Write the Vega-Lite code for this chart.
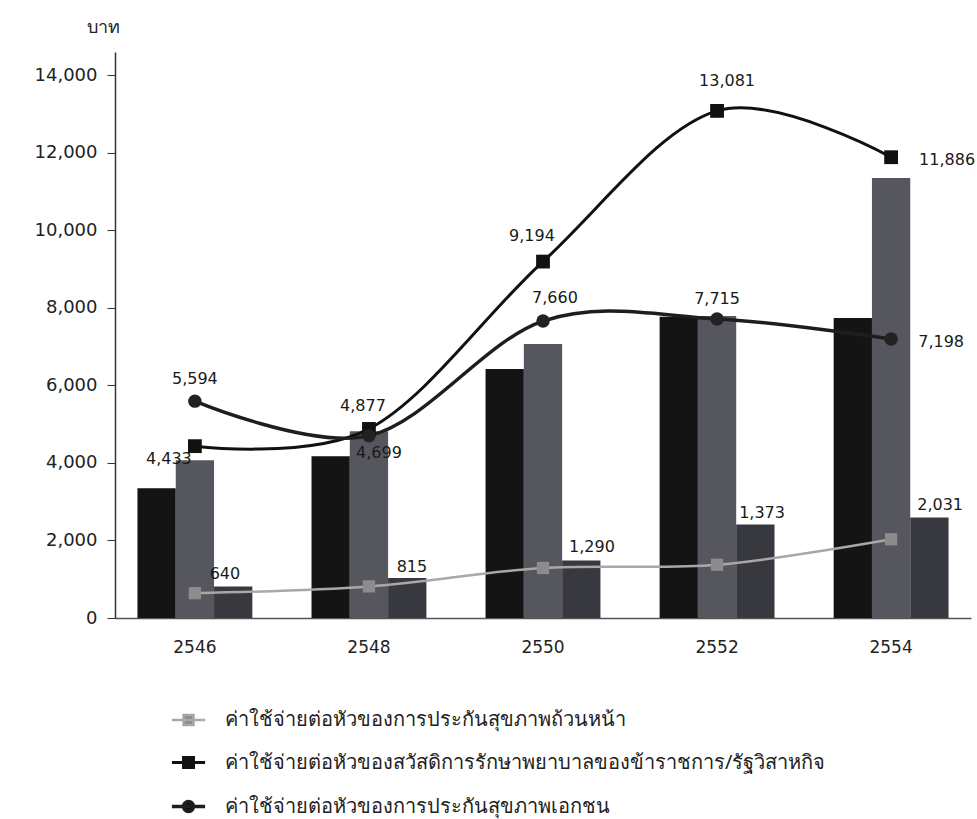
{
  "$schema": "https://vega.github.io/schema/vega-lite/v6.json",
  "autosize": {"type": "none"},
  "width": 856,
  "height": 566,
  "padding": {"left": 115, "top": 52, "right": 6, "bottom": 201},
  "background": "white",
  "config": {"view": {"stroke": null}},
  "datasets": {
    "bars": [
      {"year": "2546", "group": "b1", "value": 3350},
      {"year": "2546", "group": "b2", "value": 4070},
      {"year": "2546", "group": "b3", "value": 810},
      {"year": "2548", "group": "b1", "value": 4170},
      {"year": "2548", "group": "b2", "value": 4820},
      {"year": "2548", "group": "b3", "value": 1030},
      {"year": "2550", "group": "b1", "value": 6420},
      {"year": "2550", "group": "b2", "value": 7070},
      {"year": "2550", "group": "b3", "value": 1480},
      {"year": "2552", "group": "b1", "value": 7770},
      {"year": "2552", "group": "b2", "value": 7790},
      {"year": "2552", "group": "b3", "value": 2410},
      {"year": "2554", "group": "b1", "value": 7740},
      {"year": "2554", "group": "b2", "value": 11350},
      {"year": "2554", "group": "b3", "value": 2590}
    ],
    "lines": [
      {"year": "2546", "code": "uc", "scheme": "ค่าใช้จ่ายต่อหัวของการประกันสุขภาพถ้วนหน้า", "value": 640},
      {"year": "2548", "code": "uc", "scheme": "ค่าใช้จ่ายต่อหัวของการประกันสุขภาพถ้วนหน้า", "value": 815},
      {"year": "2550", "code": "uc", "scheme": "ค่าใช้จ่ายต่อหัวของการประกันสุขภาพถ้วนหน้า", "value": 1290},
      {"year": "2552", "code": "uc", "scheme": "ค่าใช้จ่ายต่อหัวของการประกันสุขภาพถ้วนหน้า", "value": 1373},
      {"year": "2554", "code": "uc", "scheme": "ค่าใช้จ่ายต่อหัวของการประกันสุขภาพถ้วนหน้า", "value": 2031},
      {"year": "2546", "code": "cs", "scheme": "ค่าใช้จ่ายต่อหัวของสวัสดิการรักษาพยาบาลของข้าราชการ/รัฐวิสาหกิจ", "value": 4433},
      {"year": "2548", "code": "cs", "scheme": "ค่าใช้จ่ายต่อหัวของสวัสดิการรักษาพยาบาลของข้าราชการ/รัฐวิสาหกิจ", "value": 4877},
      {"year": "2550", "code": "cs", "scheme": "ค่าใช้จ่ายต่อหัวของสวัสดิการรักษาพยาบาลของข้าราชการ/รัฐวิสาหกิจ", "value": 9194},
      {"year": "2552", "code": "cs", "scheme": "ค่าใช้จ่ายต่อหัวของสวัสดิการรักษาพยาบาลของข้าราชการ/รัฐวิสาหกิจ", "value": 13081},
      {"year": "2554", "code": "cs", "scheme": "ค่าใช้จ่ายต่อหัวของสวัสดิการรักษาพยาบาลของข้าราชการ/รัฐวิสาหกิจ", "value": 11886},
      {"year": "2546", "code": "pr", "scheme": "ค่าใช้จ่ายต่อหัวของการประกันสุขภาพเอกชน", "value": 5594},
      {"year": "2548", "code": "pr", "scheme": "ค่าใช้จ่ายต่อหัวของการประกันสุขภาพเอกชน", "value": 4699},
      {"year": "2550", "code": "pr", "scheme": "ค่าใช้จ่ายต่อหัวของการประกันสุขภาพเอกชน", "value": 7660},
      {"year": "2552", "code": "pr", "scheme": "ค่าใช้จ่ายต่อหัวของการประกันสุขภาพเอกชน", "value": 7715},
      {"year": "2554", "code": "pr", "scheme": "ค่าใช้จ่ายต่อหัวของการประกันสุขภาพเอกชน", "value": 7198}
    ]
  },
  "encoding": {
    "x": {
      "field": "year", "type": "ordinal",
      "scale": {"paddingInner": 0.34, "paddingOuter": 0.129},
      "axis": {"title": null, "labelAngle": 0, "ticks": false, "labelPadding": 21, "labelFont": "DejaVu Sans", "labelFontSize": 17, "labelColor": "#222222", "domainColor": "#555555", "domainWidth": 1.5}
    },
    "y": {
      "field": "value", "type": "quantitative",
      "scale": {"domain": [0, 14600], "nice": false},
      "axis": {"values": [0, 2000, 4000, 6000, 8000, 10000, 12000, 14000], "format": ",.0f", "grid": false, "tickSize": 8, "tickColor": "#333333", "domainColor": "#333333", "domainWidth": 1.5, "labelPadding": 10, "labelFont": "DejaVu Sans", "labelFontSize": 18, "labelColor": "#222222", "title": "บาท", "titleAngle": 0, "titleX": -12, "titleY": -25, "titleAlign": "center", "titleBaseline": "middle", "titleFont": "Noto Sans", "titleFontSize": 18, "titleFontWeight": "normal", "titleColor": "#222222"}
    }
  },
  "layer": [
    {
      "data": {"name": "bars"},
      "mark": {"type": "bar"},
      "encoding": {
        "xOffset": {"field": "group", "type": "nominal", "scale": {"paddingInner": 0, "paddingOuter": 0}},
        "fill": {"field": "group", "type": "nominal", "scale": {"domain": ["b1", "b2", "b3"], "range": ["#141414", "#56565f", "#38383f"]}, "legend": null}
      }
    },
    {
      "data": {"name": "lines"},
      "mark": {"type": "line", "interpolate": "cardinal"},
      "encoding": {
        "stroke": {
          "field": "scheme", "type": "nominal",
          "scale": {"domain": ["ค่าใช้จ่ายต่อหัวของการประกันสุขภาพถ้วนหน้า", "ค่าใช้จ่ายต่อหัวของสวัสดิการรักษาพยาบาลของข้าราชการ/รัฐวิสาหกิจ", "ค่าใช้จ่ายต่อหัวของการประกันสุขภาพเอกชน"], "range": ["#a8a8a8", "#111111", "#1e1e1e"]},
          "legend": {
            "title": null, "orient": "none", "legendX": 55, "legendY": 650,
            "labelFont": "Noto Sans", "labelFontSize": 20, "labelColor": "#222222", "labelLimit": 900, "labelOffset": 18,
            "symbolSize": 1100, "symbolStrokeWidth": 3, "rowPadding": 14,
            "symbolType": "M-1,0H1M-0.3,-0.3H0.3V0.3H-0.3Z",
            "encode": {
              "symbols": {
                "update": {
                  "shape": {"signal": "datum.index == 2 ? 'M-1,0H1M0.3,0A0.3,0.3,0,1,1,-0.3,0A0.3,0.3,0,1,1,0.3,0Z' : 'M-1,0H1M-0.3,-0.3H0.3V0.3H-0.3Z'"},
                  "fill": {"signal": "datum.index == 0 ? '#8c8c8c' : '#111111'"},
                  "stroke": {"signal": "datum.index == 0 ? '#777777' : '#111111'"},
                  "strokeWidth": {"value": 3}
                }
              }
            }
          }
        },
        "strokeWidth": {
          "field": "scheme", "type": "nominal",
          "scale": {"domain": ["ค่าใช้จ่ายต่อหัวของการประกันสุขภาพถ้วนหน้า", "ค่าใช้จ่ายต่อหัวของสวัสดิการรักษาพยาบาลของข้าราชการ/รัฐวิสาหกิจ", "ค่าใช้จ่ายต่อหัวของการประกันสุขภาพเอกชน"], "range": [2.5, 3.5, 2.5]},
          "legend": null
        }
      }
    },
    {"data": {"name": "lines"}, "transform": [{"filter": "datum.code == 'uc'"}], "mark": {"type": "point", "shape": "square", "filled": true, "size": 150, "color": "#8c8c8c", "opacity": 1}},
    {"data": {"name": "lines"}, "transform": [{"filter": "datum.code == 'cs'"}], "mark": {"type": "point", "shape": "square", "filled": true, "size": 190, "color": "#111111", "opacity": 1}},
    {"data": {"name": "lines"}, "transform": [{"filter": "datum.code == 'pr'"}], "mark": {"type": "point", "shape": "circle", "filled": true, "size": 180, "color": "#222222", "opacity": 1}},
    {"data": {"name": "lines"}, "transform": [{"filter": "datum.code == 'cs' && datum.year == '2546'"}], "mark": {"type": "text", "dx": -26, "dy": 13, "font": "DejaVu Sans", "fontSize": 16, "color": "#1a1a1a"}, "encoding": {"text": {"field": "value", "format": ","}}},
    {"data": {"name": "lines"}, "transform": [{"filter": "datum.code == 'cs' && datum.year == '2548'"}], "mark": {"type": "text", "dx": -6, "dy": -23, "font": "DejaVu Sans", "fontSize": 16, "color": "#1a1a1a"}, "encoding": {"text": {"field": "value", "format": ","}}},
    {"data": {"name": "lines"}, "transform": [{"filter": "datum.code == 'cs' && datum.year == '2550'"}], "mark": {"type": "text", "dx": -11, "dy": -26, "font": "DejaVu Sans", "fontSize": 16, "color": "#1a1a1a"}, "encoding": {"text": {"field": "value", "format": ","}}},
    {"data": {"name": "lines"}, "transform": [{"filter": "datum.code == 'cs' && datum.year == '2552'"}], "mark": {"type": "text", "dx": 10, "dy": -30, "font": "DejaVu Sans", "fontSize": 16, "color": "#1a1a1a"}, "encoding": {"text": {"field": "value", "format": ","}}},
    {"data": {"name": "lines"}, "transform": [{"filter": "datum.code == 'cs' && datum.year == '2554'"}], "mark": {"type": "text", "dx": 56, "dy": 3, "font": "DejaVu Sans", "fontSize": 16, "color": "#1a1a1a"}, "encoding": {"text": {"field": "value", "format": ","}}},
    {"data": {"name": "lines"}, "transform": [{"filter": "datum.code == 'pr' && datum.year == '2546'"}], "mark": {"type": "text", "dx": 0, "dy": -22, "font": "DejaVu Sans", "fontSize": 16, "color": "#1a1a1a"}, "encoding": {"text": {"field": "value", "format": ","}}},
    {"data": {"name": "lines"}, "transform": [{"filter": "datum.code == 'pr' && datum.year == '2548'"}], "mark": {"type": "text", "dx": 10, "dy": 17, "font": "DejaVu Sans", "fontSize": 16, "color": "#1a1a1a"}, "encoding": {"text": {"field": "value", "format": ","}}},
    {"data": {"name": "lines"}, "transform": [{"filter": "datum.code == 'pr' && datum.year == '2550'"}], "mark": {"type": "text", "dx": 12, "dy": -23, "font": "DejaVu Sans", "fontSize": 16, "color": "#1a1a1a"}, "encoding": {"text": {"field": "value", "format": ","}}},
    {"data": {"name": "lines"}, "transform": [{"filter": "datum.code == 'pr' && datum.year == '2552'"}], "mark": {"type": "text", "dx": 0, "dy": -20, "font": "DejaVu Sans", "fontSize": 16, "color": "#1a1a1a"}, "encoding": {"text": {"field": "value", "format": ","}}},
    {"data": {"name": "lines"}, "transform": [{"filter": "datum.code == 'pr' && datum.year == '2554'"}], "mark": {"type": "text", "dx": 50, "dy": 3, "font": "DejaVu Sans", "fontSize": 16, "color": "#1a1a1a"}, "encoding": {"text": {"field": "value", "format": ","}}},
    {"data": {"name": "lines"}, "transform": [{"filter": "datum.code == 'uc' && datum.year == '2546'"}], "mark": {"type": "text", "dx": 30, "dy": -19, "font": "DejaVu Sans", "fontSize": 16, "color": "#1a1a1a"}, "encoding": {"text": {"field": "value", "format": ","}}},
    {"data": {"name": "lines"}, "transform": [{"filter": "datum.code == 'uc' && datum.year == '2548'"}], "mark": {"type": "text", "dx": 43, "dy": -19, "font": "DejaVu Sans", "fontSize": 16, "color": "#1a1a1a"}, "encoding": {"text": {"field": "value", "format": ","}}},
    {"data": {"name": "lines"}, "transform": [{"filter": "datum.code == 'uc' && datum.year == '2550'"}], "mark": {"type": "text", "dx": 49, "dy": -21, "font": "DejaVu Sans", "fontSize": 16, "color": "#1a1a1a"}, "encoding": {"text": {"field": "value", "format": ","}}},
    {"data": {"name": "lines"}, "transform": [{"filter": "datum.code == 'uc' && datum.year == '2552'"}], "mark": {"type": "text", "dx": 45, "dy": -52, "font": "DejaVu Sans", "fontSize": 16, "color": "#1a1a1a"}, "encoding": {"text": {"field": "value", "format": ","}}},
    {"data": {"name": "lines"}, "transform": [{"filter": "datum.code == 'uc' && datum.year == '2554'"}], "mark": {"type": "text", "dx": 49, "dy": -34, "font": "DejaVu Sans", "fontSize": 16, "color": "#1a1a1a"}, "encoding": {"text": {"field": "value", "format": ","}}}
  ]
}
